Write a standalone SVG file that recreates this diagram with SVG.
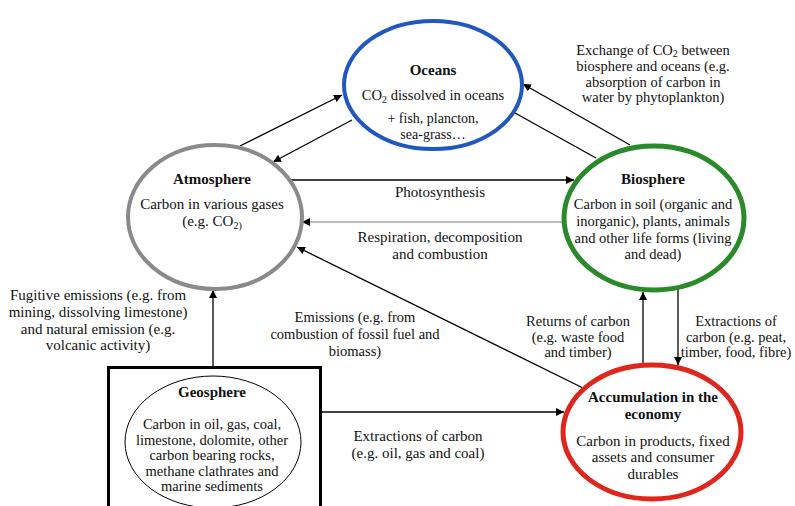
<svg xmlns="http://www.w3.org/2000/svg" width="795" height="506" viewBox="0 0 795 506">
<defs>
<marker id="arr" viewBox="0 0 10 10" refX="10" refY="5" markerWidth="8" markerHeight="8" markerUnits="userSpaceOnUse" orient="auto">
<path d="M0,0 L10,5 L0,10 z" fill="#000"/>
</marker>
</defs>
<style>
text{font-family:"Liberation Serif","Times New Roman",serif;fill:#111;text-anchor:middle;font-size:15px}
.b{font-weight:bold;font-size:15px}
.t{font-size:14.5px}
.s{font-size:10px}
.c{stroke:#000;stroke-width:1.3;fill:none}
.ca{marker-end:url(#arr)}
</style>
<rect width="795" height="506" fill="#fff"/>
<g id="connectors">
<line class="c ca" x1="240" y1="146" x2="342" y2="95"/>
<line class="c ca" x1="352" y1="120" x2="273" y2="162"/>
<line class="c ca" x1="630" y1="145" x2="523" y2="84"/>
<line class="c" x1="515" y1="113" x2="596" y2="158"/>
<line class="c ca" x1="290" y1="180" x2="574" y2="180"/>
<line x1="563" y1="222" x2="302" y2="222" stroke="#777" stroke-width="1" marker-end="url(#arr)"/>
<line class="c ca" x1="583" y1="388" x2="297" y2="247"/>
<line class="c ca" x1="213" y1="366" x2="213" y2="290"/>
<line class="c ca" x1="302" y1="412" x2="564" y2="412"/>
<line class="c ca" x1="643" y1="366" x2="643" y2="292"/>
<line class="c ca" x1="678" y1="288" x2="678" y2="365"/>
</g>
<g id="oceans">
<ellipse cx="433" cy="85" rx="89" ry="64" fill="#fff" stroke="#2058c0" stroke-width="4"/>
<text x="433" y="75" class="b">Oceans</text>
<text x="433" y="100" style="font-size:14.6px">CO<tspan class="s" dy="3">2</tspan><tspan dy="-3"> dissolved in oceans</tspan></text>
<text x="433" y="123" style="font-size:14px">+ fish, plancton,</text>
<text x="433" y="139" style="font-size:14px">sea-grass…</text>
</g>
<g id="atmosphere">
<ellipse cx="215" cy="217" rx="87" ry="72" fill="#fff" stroke="#8a8a8a" stroke-width="4"/>
<text x="212" y="184" class="b">Atmosphere</text>
<text x="212" y="209">Carbon in various gases</text>
<text x="212" y="226">(e.g. CO<tspan class="s" dy="3">2)</tspan></text>
</g>
<g id="biosphere">
<ellipse cx="654" cy="218" rx="90" ry="72" fill="#fff" stroke="#2a8a2a" stroke-width="5"/>
<text x="653" y="184" class="b">Biosphere</text>
<text x="653" y="209" class="t">Carbon in soil (organic and</text>
<text x="653" y="226" class="t">inorganic), plants, animals</text>
<text x="653" y="243" class="t">and other life forms (living</text>
<text x="653" y="259" class="t">and dead)</text>
</g>
<g id="geosphere">
<rect x="108.5" y="367.5" width="212" height="145" fill="#fff" stroke="#000" stroke-width="3"/>
<ellipse cx="213" cy="442" rx="88" ry="66" fill="#fff" stroke="#000" stroke-width="1"/>
<text x="212" y="397" class="b">Geosphere</text>
<text x="212" y="429" class="t">Carbon in oil, gas, coal,</text>
<text x="212" y="444.5" class="t">limestone, dolomite, other</text>
<text x="212" y="460" class="t">carbon bearing rocks,</text>
<text x="212" y="475.5" class="t">methane clathrates and</text>
<text x="212" y="491" class="t">marine sediments</text>
</g>
<g id="accumulation">
<ellipse cx="652" cy="432" rx="89" ry="67" fill="#fff" stroke="#e0251b" stroke-width="5"/>
<text x="653" y="402" class="b">Accumulation in the</text>
<text x="653" y="419" class="b">economy</text>
<text x="653" y="446">Carbon in products, fixed</text>
<text x="653" y="462">assets and consumer</text>
<text x="653" y="479">durables</text>
</g>
<g id="labels">
<text x="653" y="55" class="t">Exchange of CO<tspan class="s" dy="2">2</tspan><tspan dy="-2"> between</tspan></text>
<text x="653" y="71" class="t">biosphere and oceans (e.g.</text>
<text x="653" y="86.5" class="t">absorption of carbon in</text>
<text x="653" y="102" class="t">water by phytoplankton)</text>
<text x="440" y="197">Photosynthesis</text>
<text x="440" y="242">Respiration, decomposition</text>
<text x="440" y="259">and combustion</text>
<text x="98" y="300">Fugitive emissions (e.g. from</text>
<text x="98" y="317">mining, dissolving limestone)</text>
<text x="98" y="334">and natural emission (e.g.</text>
<text x="98" y="350">volcanic activity)</text>
<text x="355" y="322" class="t">Emissions (e.g. from</text>
<text x="355" y="339" class="t">combustion of fossil fuel and</text>
<text x="355" y="356" class="t">biomass)</text>
<text x="418" y="441">Extractions of carbon</text>
<text x="418" y="458">(e.g. oil, gas and coal)</text>
<text x="578" y="326" class="t">Returns of carbon</text>
<text x="578" y="342" class="t">(e.g. waste food</text>
<text x="578" y="357" class="t">and timber)</text>
<text x="736" y="326" class="t">Extractions of</text>
<text x="736" y="342" class="t">carbon (e.g. peat,</text>
<text x="736" y="357" class="t">timber, food, fibre)</text>
</g>
</svg>
